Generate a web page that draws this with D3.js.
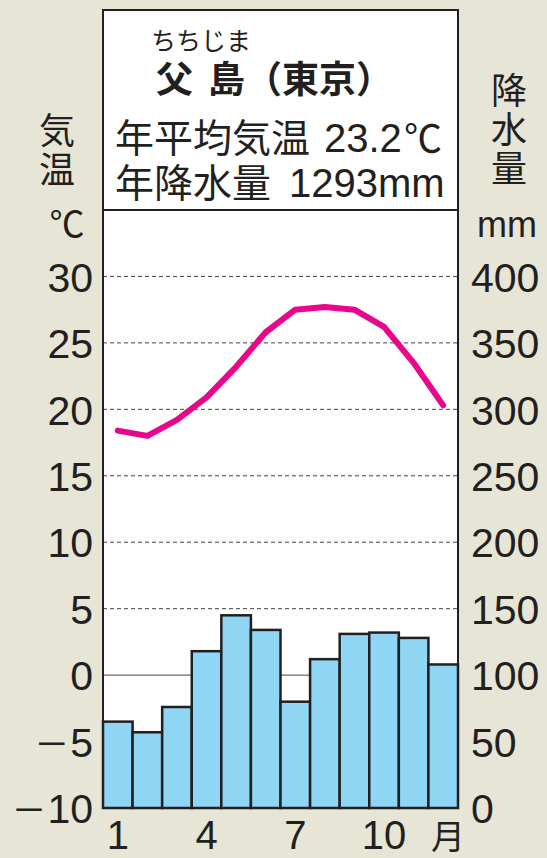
<!DOCTYPE html>
<html>
<head>
<meta charset="utf-8">
<script src="https://cdn.jsdelivr.net/npm/d3@7"></script>
<style>
  html, body { margin: 0; padding: 0; background: #e7e5d5; }
  svg { display: block; }
  text { font-family: "Liberation Sans", "Noto Sans CJK JP", sans-serif; fill: #231f20; }
</style>
</head>
<body>
<div id="chart"></div>
<script>
// 父島（東京）の雨温図
const months = [1, 2, 3, 4, 5, 6, 7, 8, 9, 10, 11, 12];
const monthLabels = ["1", "", "", "4", "", "", "7", "", "", "10", "", ""];
const temperature = [18.4, 18.0, 19.2, 20.9, 23.2, 25.8, 27.5, 27.7, 27.5, 26.2, 23.5, 20.3];
const precipitation = [65, 57, 76, 118, 145, 134, 80, 112, 131, 132, 128, 108];
const tempTicks = [-10, -5, 0, 5, 10, 15, 20, 25, 30];
const precTicks = [0, 50, 100, 150, 200, 250, 300, 350, 400];

const W = 547, H = 858;
const boxL = 103, boxR = 458, boxT = 10, divider = 210, boxB = 808;

const svg = d3.select("#chart").append("svg")
    .attr("width", W).attr("height", H);

const x = d3.scaleBand().domain(months).range([boxL, boxR]).padding(0);
const yT = d3.scaleLinear().domain([-10, 35]).range([boxB, divider]);
const yP = d3.scaleLinear().domain([0, 450]).range([boxB, divider]);

// 白い枠の中
svg.append("rect")
    .attr("x", boxL).attr("y", boxT)
    .attr("width", boxR - boxL).attr("height", boxB - boxT)
    .attr("fill", "#fff");

// グリッド（破線）と0℃の線
svg.append("g")
    .selectAll("line")
    .data(tempTicks.filter(d => d > 0))
    .enter().append("line")
    .attr("x1", boxL).attr("x2", boxR)
    .attr("y1", d => yT(d)).attr("y2", d => yT(d))
    .attr("stroke", "#444")
    .attr("stroke-width", 1)
    .attr("stroke-dasharray", "4,3");

svg.append("line")
    .attr("x1", boxL).attr("x2", boxR)
    .attr("y1", yT(0)).attr("y2", yT(0))
    .attr("stroke", "#444")
    .attr("stroke-width", 1);

// 降水量の棒
svg.append("g")
    .selectAll("rect")
    .data(precipitation)
    .enter().append("rect")
    .attr("x", (d, i) => x(months[i]))
    .attr("y", d => yP(d))
    .attr("width", x.bandwidth())
    .attr("height", d => yP(0) - yP(d))
    .attr("fill", "#8fd5f4")
    .attr("stroke", "#231f20")
    .attr("stroke-width", 2.5);

// 気温の折れ線
const line = d3.line()
    .x((d, i) => x(months[i]) + x.bandwidth() / 2)
    .y(d => yT(d));

svg.append("path")
    .datum(temperature)
    .attr("d", line)
    .attr("fill", "none")
    .attr("stroke", "#e8078b")
    .attr("stroke-width", 6)
    .attr("stroke-linejoin", "round")
    .attr("stroke-linecap", "round");

// 枠線
svg.append("rect")
    .attr("x", boxL).attr("y", boxT)
    .attr("width", boxR - boxL).attr("height", boxB - boxT)
    .attr("fill", "none")
    .attr("stroke", "#231f20")
    .attr("stroke-width", 2);

svg.append("line")
    .attr("x1", boxL).attr("x2", boxR)
    .attr("y1", divider).attr("y2", divider)
    .attr("stroke", "#231f20")
    .attr("stroke-width", 2);

// 目盛り
const axL = svg.append("g")
    .attr("transform", `translate(${boxL},0)`)
    .call(d3.axisLeft(yT).tickValues(tempTicks).tickSize(0).tickPadding(10).tickFormat(d => String(Math.abs(d))));

const axR = svg.append("g")
    .attr("transform", `translate(${boxR},0)`)
    .call(d3.axisRight(yP).tickValues(precTicks).tickSize(0).tickPadding(13));

const axB = svg.append("g")
    .attr("transform", `translate(0,${boxB})`)
    .call(d3.axisBottom(x).tickSize(0).tickPadding(13).tickFormat((d, i) => monthLabels[i]));

[axL, axR].forEach(a => {
  a.select(".domain").remove();
  a.selectAll("text")
      .style("font-size", "41px")
      .attr("fill", "#231f20")
      .attr("dy", "0.36em");
});
axB.select(".domain").remove();
axB.selectAll("text")
    .style("font-size", "40px")
    .attr("fill", "#231f20")
    .attr("dy", "0.7em");

// 負の値には長いマイナス記号を付ける
axL.selectAll(".tick")
    .filter(d => d < 0)
    .select("text")
    .each(function (d) {
      const t = d3.select(this).text(null);
      t.append("tspan").style("font-size", "35px").text("－");
      t.append("tspan").attr("dx", 1).text(Math.abs(d));
    });

svg.append("text")
    .attr("x", 448).attr("y", 849)
    .attr("text-anchor", "middle")
    .style("font-size", "34px")
    .text("月");

// 軸ラベル
svg.append("g")
    .selectAll("text")
    .data(["気", "温"])
    .enter().append("text")
    .attr("x", 57).attr("y", (d, i) => 144 + i * 39)
    .attr("text-anchor", "middle")
    .style("font-size", "36px")
    .text(d => d);

svg.append("text")
    .attr("x", 67).attr("y", 237)
    .attr("text-anchor", "middle")
    .style("font-size", "35px")
    .text("℃");

svg.append("g")
    .selectAll("text")
    .data(["降", "水", "量"])
    .enter().append("text")
    .attr("x", 509).attr("y", (d, i) => 104 + i * 39)
    .attr("text-anchor", "middle")
    .style("font-size", "36px")
    .text(d => d);

svg.append("text")
    .attr("x", 507).attr("y", 237)
    .attr("text-anchor", "middle")
    .style("font-size", "36px")
    .text("mm");

// タイトル
svg.append("text")
    .attr("x", 201).attr("y", 50)
    .attr("text-anchor", "middle")
    .style("font-size", "25px")
    .text("ちちじま");

svg.append("text")
    .attr("x", 156).attr("y", 93)
    .style("font-size", "37px")
    .style("font-weight", "bold")
    .text("父");

svg.append("text")
    .attr("x", 208).attr("y", 93)
    .style("font-size", "37px")
    .style("font-weight", "bold")
    .text("島（東京）");

const line1 = svg.append("text").attr("y", 152);
line1.append("tspan").attr("x", 115).style("font-size", "39px").text("年平均気温");
line1.append("tspan").attr("x", 324).style("font-size", "40px").text("23.2");
line1.append("tspan").attr("x", 404).style("font-size", "38px").text("℃");

const line2 = svg.append("text").attr("y", 197);
line2.append("tspan").attr("x", 115).style("font-size", "39px").text("年降水量");
line2.append("tspan").attr("x", 289).style("font-size", "40px").text("1293mm");
</script>
</body>
</html>
